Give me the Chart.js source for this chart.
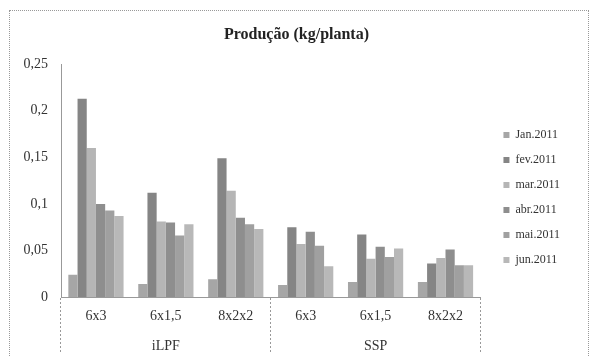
<!DOCTYPE html>
<html>
<head>
<meta charset="utf-8">
<script src="https://cdn.jsdelivr.net/npm/chart.js@4"></script>
<style>
  html, body { margin: 0; padding: 0; background: #fff; }
  #wrap { position: relative; width: 589px; height: 356px; }
  #frame {
    position: absolute; left: 9px; top: 10px; width: 578px; height: 360px;
    border: 1px dotted #999; pointer-events: none;
  }
</style>
</head>
<body>
<div id="wrap">
  <canvas id="myChart"></canvas>
  <div id="frame"></div>
</div>
<script>
// categories (two levels) and series
var categories = ["6x3", "6x1,5", "8x2x2", "6x3", "6x1,5", "8x2x2"];
var groups = ["", "iLPF", "", "", "SSP", ""];
var months = ["Jan.2011", "fev.2011", "mar.2011", "abr.2011", "mai.2011", "jun.2011"];

var jan = [0.024, 0.014, 0.019, 0.013, 0.016, 0.016];
var fev = [0.213, 0.112, 0.149, 0.075, 0.067, 0.036];
var mar = [0.160, 0.081, 0.114, 0.057, 0.041, 0.042];
var abr = [0.100, 0.080, 0.085, 0.070, 0.054, 0.051];
var mai = [0.093, 0.066, 0.078, 0.055, 0.043, 0.034];
var jun = [0.087, 0.078, 0.073, 0.033, 0.052, 0.034];

var yTicks = [0, 0.05, 0.1, 0.15, 0.2, 0.25];

var series = [jan, fev, mar, abr, mai, jun];
var colors = ["#a6a6a6", "#858585", "#b5b5b5", "#8e8e8e", "#a0a0a0", "#b8b8b8"];

var labels = categories.map(function (c, i) { return [c, groups[i]]; });

var serif = "'Liberation Serif', 'Times New Roman', serif";

// only the group borders (every third category edge) get a divider line
function divider(c) {
  return (c.index === undefined || c.index % 3 === 0) ? "#999" : "rgba(0,0,0,0)";
}

var ctx = document.getElementById("myChart").getContext("2d");
var chart = new Chart(ctx, {
  type: "bar",
  data: {
    labels: labels,
    datasets: series.map(function (s, i) {
      return {
        label: months[i],
        data: s,
        backgroundColor: colors[i],
        borderWidth: 0,
        categoryPercentage: 0.79,
        barPercentage: 1,
      };
    }),
  },
  options: {
    responsive: true,
    maintainAspectRatio: false,
    animation: false,
    layout: { padding: { left: 23, right: 19, top: 0, bottom: 0 } },
    plugins: {
      title: {
        display: true,
        text: "Produção (kg/planta)",
        color: "#222",
        font: { family: serif, size: 16, weight: "bold", lineHeight: 1.2 },
        padding: { top: 25, bottom: 20 },
      },
      legend: {
        position: "right",
        fullSize: false,
        title: { display: true, text: "", font: { size: 12, lineHeight: 1 }, padding: { top: 11, bottom: 11 } },
        labels: {
          boxWidth: 6,
          boxHeight: 6,
          padding: 13,
          color: "#333",
          font: { family: serif, size: 12 },
        },
      },
      tooltip: { enabled: false },
    },
    scales: {
      x: {
        afterFit: function (s) { s.height = 59; },
        grid: {
          offset: true,
          drawOnChartArea: false,
          drawTicks: true,
          tickLength: 56,
          color: divider,
          tickColor: divider,
          tickBorderDash: [2, 2],
        },
        border: { display: true, color: "#999", dash: [2, 2] },
        ticks: {
          padding: -52,
          maxRotation: 0,
          autoSkip: false,
          color: "#333",
          font: { family: serif, size: 14, lineHeight: 2.15 },
        },
      },
      y: {
        min: 0,
        max: 0.25,
        afterBuildTicks: function (s) { s.ticks = yTicks.map(function (v) { return { value: v }; }); },
        afterFit: function (s) { s.width = 38; },
        grid: { display: false, drawTicks: false },
        border: { display: true, color: "#999", dash: [2, 2] },
        ticks: {
          padding: 13,
          color: "#333",
          font: { family: serif, size: 14 },
          callback: function (v) { return String(Number(v.toFixed(2))).replace(".", ","); },
        },
      },
      pad: {
        type: "linear",
        position: "right",
        display: true,
        grid: { display: false, drawTicks: false },
        border: { display: false },
        ticks: { display: false },
        afterFit: function (s) { s.width = 10; },
      },
    },
  },
});
</script>
</body>
</html>
